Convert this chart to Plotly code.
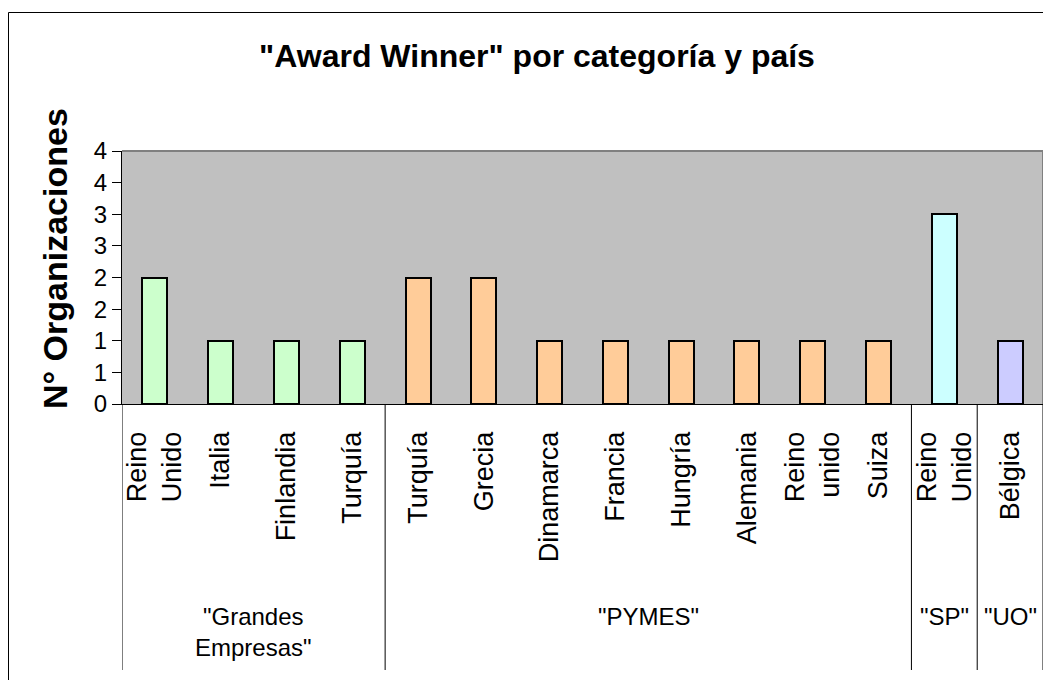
import plotly.graph_objects as go

# ---- data ----
groups = ['"Grandes<br>Empresas"', '"PYMES"', '"SP"', '"UO"']
group_countries = [
    ["Reino<br>Unido", "Italia", "Finlandia", "Turquía"],
    ["Turquía", "Grecia", "Dinamarca", "Francia", "Hungría", "Alemania", "Reino<br>unido", "Suiza"],
    ["Reino<br>Unido"],
    ["Bélgica"],
]
group_values = [
    [2, 1, 1, 1],
    [2, 2, 1, 1, 1, 1, 1, 1],
    [3],
    [1],
]
group_colors = ["#CCFFCC", "#FFCC99", "#CCFFFF", "#CCCCFF"]
y_tick_vals = [0, 0.5, 1, 1.5, 2, 2.5, 3, 3.5, 4]
y_tick_text = ["0", "1", "1", "2", "2", "3", "3", "4", "4"]

# figure is placed at (8,8) in the page by the default body margin
OFF = 8
W, H = 1035, 672
L, R, T, B = 122 - OFF, 0, 151 - OFF, H - (404 - OFF)
FONT = "Liberation Sans, Arial, sans-serif"

fig = go.Figure()
labels, xs, starts = [], [], []
idx = 0
for g, countries, vals, col in zip(groups, group_countries, group_values, group_colors):
    starts.append(idx)
    pos = list(range(idx, idx + len(countries)))
    fig.add_trace(go.Bar(x=pos, y=vals, width=0.38, marker=dict(color=col, line=dict(color="black", width=2)),
                         showlegend=False))
    labels += countries
    xs += pos
    idx += len(countries)
n = idx

plot_h = H - T - B
plot_w = W - L - R
def py(pix):  # reference page pixel y -> paper y
    return (H - B - (pix - OFF)) / plot_h
def px(pix):  # reference page pixel x -> paper x
    return ((pix - OFF) - L) / plot_w

shapes = []
# group separators
for s in starts + [n]:
    shapes.append(dict(type="line", xref="x", yref="paper", x0=s - 0.5, x1=s - 0.5, y0=0, y1=py(670),
                       line=dict(color="black", width=1)))
# plot area border top/right
shapes.append(dict(type="line", xref="paper", yref="paper", x0=0, x1=1, y0=1, y1=1, line=dict(color="#808080", width=2)))
shapes.append(dict(type="line", xref="paper", yref="paper", x0=1, x1=1, y0=0, y1=1, line=dict(color="#808080", width=2)))
# outer chart border
shapes.append(dict(type="rect", xref="paper", yref="paper", x0=px(8.5), x1=px(1070), y0=py(12.5), y1=py(720),
                   line=dict(color="black", width=1), fillcolor="rgba(0,0,0,0)", layer="below"))

annotations = []
for g, countries, s in zip(groups, group_countries, starts):
    annotations.append(dict(text=g, x=s + (len(countries) - 1) / 2, xref="x", y=py(601), yref="paper",
                            yanchor="top", showarrow=False, font=dict(size=24, color="black", family=FONT)))
annotations.append(dict(text="<b>N° Organizaciones</b>", textangle=-90, x=px(55), xref="paper", y=py(259), yref="paper",
                        xanchor="center", yanchor="middle",
                        showarrow=False, font=dict(size=34, color="black", family=FONT)))

fig.update_layout(
    width=W, height=H,
    margin=dict(l=L, r=R, t=T, b=B),
    paper_bgcolor="white", plot_bgcolor="#C0C0C0",
    title=dict(text='<b>"Award Winner" por categoría y país</b>', x=(537 - OFF) / W, xanchor="center",
               y=1 - (56 - OFF) / H, yanchor="middle", font=dict(size=32, color="black", family=FONT)),
    shapes=shapes, annotations=annotations,
    bargap=0,
)
fig.update_xaxes(range=[-0.5, n - 0.5], tickvals=xs, ticktext=labels, tickangle=-90,
                 showline=True, linecolor="black", linewidth=1, showgrid=False, zeroline=False,
                 ticks="", ticklabelstandoff=16, tickfont=dict(size=27, color="black", family=FONT))
fig.update_yaxes(range=[0, 4], tickvals=y_tick_vals, ticktext=y_tick_text,
                 showline=True, linecolor="black", linewidth=1, showgrid=False, zeroline=False,
                 ticks="outside", ticklen=9, tickcolor="black",
                 tickfont=dict(size=24, color="black", family=FONT))

fig.write_html("out.html")
